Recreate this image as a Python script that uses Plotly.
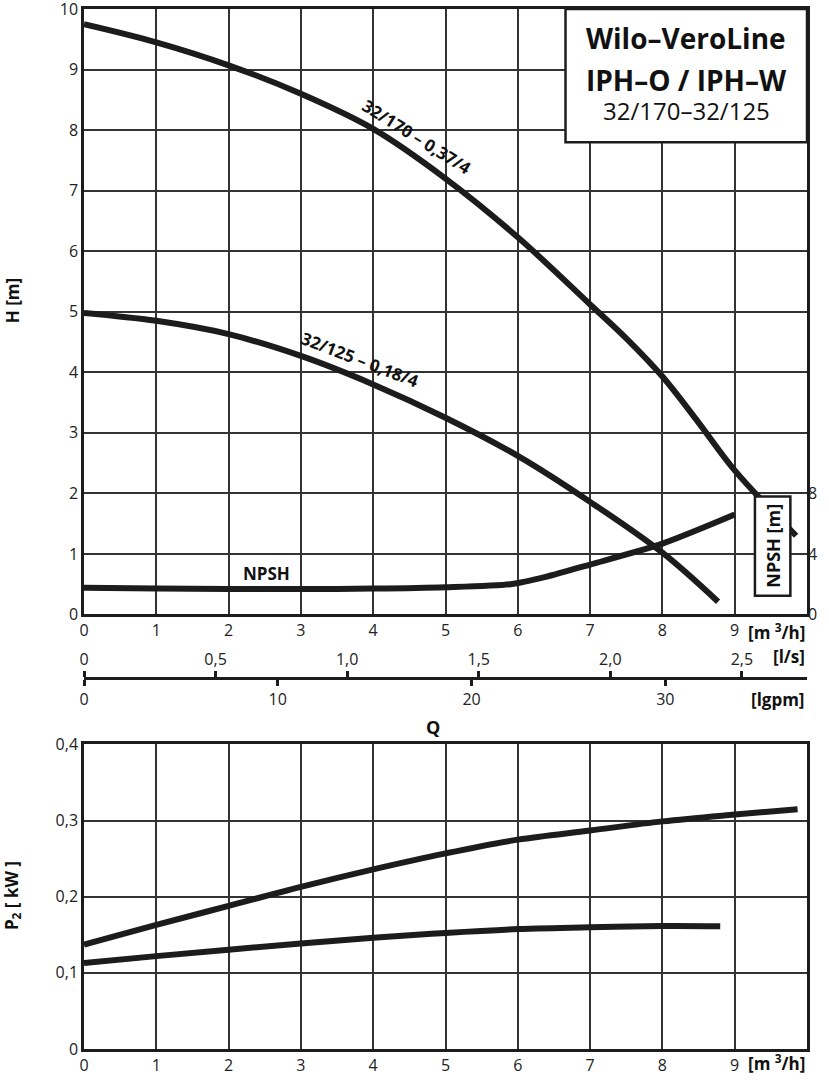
import plotly.graph_objects as go

# ---------------- data ----------------
Q_TICKS = [0, 1, 2, 3, 4, 5, 6, 7, 8, 9]
H_TICKS = [0, 1, 2, 3, 4, 5, 6, 7, 8, 9, 10]
NPSH_TICKS = [0, 4, 8]
LS_TICKS = [0, 0.5, 1.0, 1.5, 2.0, 2.5]
LS_TEXT = ["0", "0,5", "1,0", "1,5", "2,0", "2,5"]
LGPM_TICKS = [0, 10, 20, 30]
P_TICKS = [0, 0.1, 0.2, 0.3, 0.4]
P_TEXT = ["0", "0,1", "0,2", "0,3", "0,4"]

# pump curve 32/170 - 0,37/4
Q_170 = [0, 1, 2, 3, 4, 5, 6, 7, 7.5, 8, 8.5, 9, 9.85]
H_170 = [9.75, 9.45, 9.07, 8.6, 8.02, 7.2, 6.23, 5.12, 4.56, 3.93, 3.17, 2.38, 1.3]

# pump curve 32/125 - 0,18/4
Q_125 = [0, 1, 2, 3, 4, 5, 6, 7, 8, 8.77]
H_125 = [4.98, 4.85, 4.63, 4.27, 3.80, 3.25, 2.62, 1.86, 1.02, 0.21]

# NPSH (m, right scale)
Q_NPSH = [0, 1, 2, 3, 4, 5, 5.9, 6.4, 7, 8, 9]
NPSH = [1.76, 1.72, 1.69, 1.68, 1.71, 1.8, 2.0, 2.5, 3.3, 4.68, 6.6]

# power P2
Q_P170 = [0, 1, 2, 3, 4, 5, 6, 7, 8, 9, 9.87]
P_170 = [0.137, 0.163, 0.188, 0.213, 0.236, 0.257, 0.275, 0.287, 0.299, 0.308, 0.315]
Q_P125 = [0, 1, 2, 3, 4, 5, 6, 7, 8, 8.8]
P_125 = [0.113, 0.122, 0.1305, 0.1385, 0.146, 0.1525, 0.1575, 0.160, 0.1615, 0.1612]

LS_PER_M3H = 3.64      # m3/h per l/s (scale as drawn)
LGPM_PER_M3H = 0.268   # m3/h per lgpm (scale as drawn)
Q_MAX = 10

FONT = "Open Sans"
INK = "#1c1c1c"
GRID = "#333333"
LW = 6

fig = go.Figure()
curve_line = dict(color=INK, width=LW, shape="spline", smoothing=1.0)
fig.add_trace(go.Scatter(x=Q_170, y=H_170, mode="lines", line=curve_line, xaxis="x", yaxis="y", hoverinfo="skip"))
fig.add_trace(go.Scatter(x=Q_125, y=H_125, mode="lines", line=curve_line, xaxis="x", yaxis="y", hoverinfo="skip"))
fig.add_trace(go.Scatter(x=Q_NPSH, y=NPSH, mode="lines", line=dict(curve_line, smoothing=0.7),
                         xaxis="x", yaxis="y2", hoverinfo="skip"))
fig.add_trace(go.Scatter(x=Q_P170, y=P_170, mode="lines", line=curve_line, xaxis="x2", yaxis="y3", hoverinfo="skip"))
fig.add_trace(go.Scatter(x=Q_P125, y=P_125, mode="lines", line=curve_line, xaxis="x2", yaxis="y3", hoverinfo="skip"))
# invisible carriers for the secondary flow scales
fig.add_trace(go.Scatter(x=LS_TICKS, y=[0] * len(LS_TICKS), mode="markers", marker=dict(opacity=0),
                         xaxis="x3", yaxis="y", hoverinfo="skip"))
fig.add_trace(go.Scatter(x=LGPM_TICKS, y=[0] * len(LGPM_TICKS), mode="markers", marker=dict(opacity=0),
                         xaxis="x4", yaxis="y", hoverinfo="skip"))

tickfont = dict(family=FONT, size=16, color="#222")
top_dom = [0.4178, 1.0]
bot_dom = [0.0, 0.2928]
frame = dict(showline=True, linecolor=INK, linewidth=2.5, mirror=True, ticks="", zeroline=False,
             automargin=False, tickfont=tickfont, ticklabeloverflow="allow")
grid = dict(showgrid=True, gridcolor=GRID, gridwidth=1.5)

fig.update_layout(
    width=829, height=1080,
    margin=dict(l=84, r=22, t=9, b=31, autoexpand=False),
    paper_bgcolor="white", plot_bgcolor="white",
    showlegend=False,
    font=dict(family=FONT, color="#222"),
    xaxis=dict(domain=[0, 1], range=[0, Q_MAX], anchor="y", tickvals=Q_TICKS,
               ticktext=[str(v) for v in Q_TICKS], **grid, **frame),
    yaxis=dict(domain=top_dom, range=[0, 10], anchor="x", tickvals=H_TICKS,
               ticktext=[str(v) for v in H_TICKS], **grid, **frame),
    yaxis2=dict(overlaying="y", side="right", anchor="x", range=[0, 40], tickvals=NPSH_TICKS,
                ticktext=[str(v) for v in NPSH_TICKS], showgrid=False, showline=False, ticks="",
                tickfont=tickfont, zeroline=False, automargin=False, ticklabeloverflow="allow"),
    xaxis3=dict(overlaying="x", anchor="free", position=0.3567, side="top", range=[0, Q_MAX / LS_PER_M3H],
                tickvals=LS_TICKS, ticktext=LS_TEXT, ticks="outside", ticklen=6, tickwidth=2.5, tickcolor=INK,
                showline=True, linecolor=INK, linewidth=2.5, showgrid=False, zeroline=False, tickfont=tickfont,
                automargin=False),
    xaxis4=dict(overlaying="x", anchor="free", position=0.3567, side="bottom", range=[0, Q_MAX / LGPM_PER_M3H],
                tickvals=LGPM_TICKS, ticktext=[str(v) for v in LGPM_TICKS], ticks="outside", ticklen=6,
                tickwidth=2.5, tickcolor=INK, showline=True, linecolor=INK, linewidth=2.5, showgrid=False,
                zeroline=False, tickfont=tickfont, automargin=False),
    xaxis2=dict(domain=[0, 1], range=[0, Q_MAX], anchor="y3", tickvals=Q_TICKS,
                ticktext=[str(v) for v in Q_TICKS], **grid, **frame),
    yaxis3=dict(domain=bot_dom, range=[0, 0.4], anchor="x2", tickvals=P_TICKS, ticktext=P_TEXT,
                **grid, **frame),
)

# title box and NPSH label box
fig.add_shape(type="rect", xref="x", yref="y", x0=6.66, x1=10, y0=7.8, y1=10,
              fillcolor="white", line=dict(color=INK, width=2.5), layer="above")
fig.add_shape(type="rect", xref="x", yref="y", x0=9.28, x1=9.77, y0=0.31, y1=1.95,
              fillcolor="white", line=dict(color=INK, width=2.5), layer="above")

ann = []
c = dict(xanchor="center", yanchor="middle", showarrow=False)
ann.append(dict(x=8.33, y=9.52, xref="x", yref="y", text="<b>Wilo–VeroLine</b>",
                font=dict(family=FONT, size=28, color="#111"), **c))
ann.append(dict(x=8.33, y=8.83, xref="x", yref="y", text="<b>IPH–O / IPH–W</b>",
                font=dict(family=FONT, size=28, color="#111"), **c))
ann.append(dict(x=8.33, y=8.32, xref="x", yref="y", text="32/170–32/125",
                font=dict(family=FONT, size=24, color="#111"), **c))
ann.append(dict(x=9.525, y=1.13, xref="x", yref="y", text="<b>NPSH [m]</b>", textangle=-90,
                font=dict(family=FONT, size=18, color="#111"), **c))
ann.append(dict(x=4.6, y=7.9, xref="x", yref="y", text="<b>32/170 – 0,37/4</b>", textangle=32,
                font=dict(family=FONT, size=17, color="#111"), **c))
ann.append(dict(x=3.82, y=4.21, xref="x", yref="y", text="<b>32/125 – 0,18/4</b>", textangle=21,
                font=dict(family=FONT, size=17, color="#111"), **c))
ann.append(dict(x=2.53, y=0.68, xref="x", yref="y", text="<b>NPSH</b>",
                font=dict(family=FONT, size=17, color="#111"), **c))

lab = dict(family=FONT, size=17, color="#111")
r = dict(xanchor="right", yanchor="middle", showarrow=False, xref="paper", yref="paper", font=lab)
ann.append(dict(x=1.0, y=0.401, text="<b>[m <sup>3</sup>/h]</b>", **r))
ann.append(dict(x=1.0, y=0.377, text="<b>[l/s]</b>", **r))
ann.append(dict(x=1.0, y=0.3356, text="<b>[lgpm]</b>", **r))
ann.append(dict(x=1.0, y=-0.0125, text="<b>[m <sup>3</sup>/h]</b>", **r))
ann.append(dict(x=0.4827, y=0.3096, xref="paper", yref="paper", text="<b>Q</b>",
                font=dict(family=FONT, size=18, color="#111"), **c))
ann.append(dict(x=-0.0996, y=0.720, xref="paper", yref="paper", text="<b>H [m]</b>",
                textangle=-90, font=lab, **c))
ann.append(dict(x=-0.0996, y=0.148, xref="paper", yref="paper", text="<b>P<sub>2</sub> [ kW ]</b>",
                textangle=-90, font=lab, **c))
fig.update_layout(annotations=ann)

fig.write_html("out.html", config={"displayModeBar": False},
               post_script="document.body.style.margin='0';document.body.style.overflow='hidden';")
